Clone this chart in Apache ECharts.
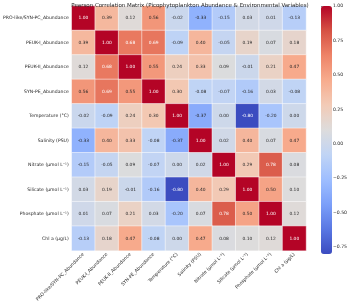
<!DOCTYPE html>
<html>
<head>
<meta charset="utf-8">
<script src="https://cdn.jsdelivr.net/npm/echarts@6/dist/echarts.min.js"></script>
<style>
  html, body { margin: 0; padding: 0; background: #fff; }
  #chart { width: 350px; height: 304px; }
</style>
</head>
<body>
<div id="chart"></div>
<script>
  // variables, same order on both axes
  var variables = [
    "PRO-like/SYN-PC_Abundance",
    "PEUK-I_Abundance",
    "PEUK-II_Abundance",
    "SYN-PE_Abundance",
    "Temperature (°C)",
    "Salinity (PSU)",
    "Nitrate (μmol L⁻¹)",
    "Silicate (μmol L⁻¹)",
    "Phosphate (μmol L⁻¹)",
    "Chl a (μg/L)"
  ];

  // pearson r, one row per variable
  var rowPro = [1.00, 0.39, 0.12, 0.56, -0.02, -0.33, -0.15, 0.03, 0.01, -0.13];
  var rowPeuk1 = [0.39, 1.00, 0.68, 0.69, -0.09, 0.40, -0.05, 0.19, 0.07, 0.18];
  var rowPeuk2 = [0.12, 0.68, 1.00, 0.55, 0.24, 0.33, 0.09, -0.01, 0.21, 0.47];
  var rowSynPe = [0.56, 0.69, 0.55, 1.00, 0.30, -0.08, -0.07, -0.16, 0.03, -0.08];
  var rowTemp = [-0.02, -0.09, 0.24, 0.30, 1.00, -0.37, 0.00, -0.80, -0.20, 0.00];
  var rowSal = [-0.33, 0.40, 0.33, -0.08, -0.37, 1.00, 0.02, 0.40, 0.07, 0.47];
  var rowNitrate = [-0.15, -0.05, 0.09, -0.07, 0.00, 0.02, 1.00, 0.29, 0.78, 0.08];
  var rowSilicate = [0.03, 0.19, -0.01, -0.16, -0.80, 0.40, 0.29, 1.00, 0.50, 0.10];
  var rowPhosphate = [0.01, 0.07, 0.21, 0.03, -0.20, 0.07, 0.78, 0.50, 1.00, 0.12];
  var rowChl = [-0.13, 0.18, 0.47, -0.08, 0.00, 0.47, 0.08, 0.10, 0.12, 1.00];

  var matrix = [rowPro, rowPeuk1, rowPeuk2, rowSynPe, rowTemp, rowSal,
                rowNitrate, rowSilicate, rowPhosphate, rowChl];

  // colorbar ticks
  var cbarTicks = [-0.75, -0.5, -0.25, 0, 0.25, 0.5, 0.75, 1.0];

  // coolwarm
  var coolwarm = ["#3b4cc0", "#5977e3", "#7b9ff9", "#9ebeff", "#c0d4f5", "#dddcdc",
                  "#f2cbb7", "#f7ac8e", "#ee8468", "#d65244", "#b40426"];

  var FONT = "DejaVu Sans";
  var vmin = -0.80, vmax = 1.00;

  var cells = [];
  matrix.forEach(function (row, y) {
    row.forEach(function (v, x) {
      var dark = v >= 0.6 || v <= -0.6;
      cells.push({
        value: [x, y, v],
        label: { color: dark ? "#ffffff" : "#262626" }
      });
    });
  });

  var chart = echarts.init(document.getElementById("chart"));
  chart.setOption({
    animation: false,
    title: {
      text: "Pearson Correlation Matrix (Picophytoplankton Abundance & Environmental Variables)",
      left: 185,
      top: -2,
      textAlign: "center",
      textStyle: { fontFamily: FONT, fontSize: 5.5, fontWeight: "normal", color: "#262626" }
    },
    grid: [
      { left: 65, top: 6, width: 241, height: 248 },
      { left: 321, top: 6, width: 11, height: 248 }
    ],
    xAxis: [
      {
        type: "category",
        gridIndex: 0,
        data: variables,
        axisLine: { show: false },
        axisTick: { alignWithLabel: true, length: 2.5, lineStyle: { color: "#262626", width: 0.6 } },
        axisLabel: { rotate: 45, interval: 0, margin: 3, fontFamily: FONT, fontSize: 4.6, color: "#262626" },
        splitLine: { show: false }
      },
      { type: "value", gridIndex: 1, show: false }
    ],
    yAxis: [
      {
        type: "category",
        gridIndex: 0,
        inverse: true,
        data: variables,
        axisLine: { show: false },
        axisTick: { alignWithLabel: true, length: 2.5, lineStyle: { color: "#262626", width: 0.6 } },
        axisLabel: { interval: 0, margin: 3, fontFamily: FONT, fontSize: 4.6, color: "#262626" },
        splitLine: { show: false }
      },
      {
        type: "value",
        gridIndex: 1,
        position: "right",
        min: vmin,
        max: vmax,
        axisLine: { show: false },
        splitLine: { show: false },
        axisTick: { show: true, customValues: cbarTicks, length: 2.5, lineStyle: { color: "#262626", width: 0.6 } },
        axisLabel: {
          customValues: cbarTicks,
          margin: 3,
          fontFamily: FONT,
          fontSize: 4.6,
          color: "#262626",
          formatter: function (v) { return v.toFixed(2).replace("-", "\u2212"); }
        }
      }
    ],
    visualMap: {
      type: "continuous",
      seriesIndex: 0,
      min: vmin,
      max: vmax,
      calculable: false,
      orient: "vertical",
      left: 321,
      top: 6,
      padding: 0,
      itemWidth: 11,
      itemHeight: 248,
      inRange: { color: coolwarm }
    },
    series: [
      {
        type: "heatmap",
        xAxisIndex: 0,
        yAxisIndex: 0,
        data: cells,
        itemStyle: { borderColor: "#ffffff", borderWidth: 0.5 },
        label: {
          show: true,
          fontFamily: FONT,
          fontSize: 4.4,
          formatter: function (p) { return p.value[2].toFixed(2); }
        }
      }
    ]
  });
</script>
</body>
</html>
